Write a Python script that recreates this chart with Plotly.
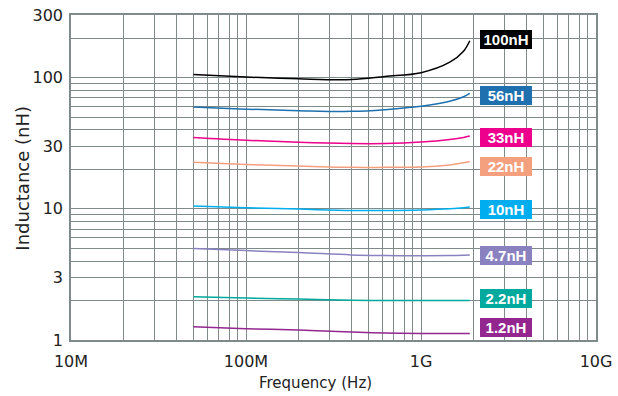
import numpy as np
import plotly.graph_objects as go

freq_hz = [50e6, 100e6, 200e6, 400e6, 623e6, 1.0e9, 1.46e9, 1.75e9, 1.9e9]

series_names = ["100nH", "56nH", "33nH", "22nH", "10nH", "4.7nH", "2.2nH", "1.2nH"]
series_colors = ["#000000", "#1f70ae", "#ec008c", "#f4a07f", "#00aeef", "#8a82c0", "#00a99d", "#93278f"]

l_100 = [105.4, 101.0, 97.8, 96.6, 102.0, 109.0, 131.0, 159.0, 191.0]
l_56 = [59.7, 57.5, 56.0, 55.3, 57.0, 60.4, 66.0, 71.5, 75.9]
l_33 = [35.0, 33.3, 32.1, 31.4, 31.4, 32.3, 33.8, 35.0, 35.9]
l_22 = [22.6, 21.8, 21.2, 20.7, 20.7, 20.8, 21.6, 22.4, 22.9]
l_10 = [10.5, 10.2, 9.95, 9.7, 9.7, 9.8, 10.0, 10.2, 10.3]
l_4_7 = [4.98, 4.8, 4.64, 4.45, 4.4, 4.38, 4.4, 4.43, 4.45]
l_2_2 = [2.14, 2.09, 2.05, 2.01, 2.0, 2.0, 2.0, 2.0, 2.0]
l_1_2 = [1.26, 1.22, 1.19, 1.15, 1.13, 1.12, 1.12, 1.12, 1.12]
series_values = [l_100, l_56, l_33, l_22, l_10, l_4_7, l_2_2, l_1_2]

label_freq = 3.06e9
label_y = [195, 73, 34.8, 20.9, 9.8, 4.38, 2.09, 1.24]

x_tick_labels = {1e7: "10M", 1e8: "100M", 1e9: "1G", 1e10: "10G"}
y_tick_labels = {1: "1", 3: "3", 10: "10", 30: "30", 100: "100", 300: "300"}

x_grid = [m * 10 ** e for e in (7, 8, 9) for m in range(1, 10)] + [1e10]
y_grid = [m * 10 ** e for e in (0, 1) for m in range(1, 10)] + [100, 200, 300]

fig = go.Figure()
for name, color, vals in zip(series_names, series_colors, series_values):
    fig.add_trace(go.Scatter(x=freq_hz, y=vals, mode="lines", name=name,
                             line=dict(color=color, width=1.5, shape="spline", smoothing=1.0),
                             showlegend=False, hoverinfo="skip"))

for name, color, yv in zip(series_names, series_colors, label_y):
    fig.add_annotation(x=np.log10(label_freq), y=np.log10(yv), xref="x", yref="y",
                       text="<b>%s</b>" % name, showarrow=False,
                       font=dict(family="Liberation Sans", size=15, color="white"),
                       bgcolor=color, width=48, height=15, borderpad=2, borderwidth=0)

text_font = dict(family="DejaVu Sans", color="#222")
fig.add_annotation(text="Frequency (Hz)", xref="paper", yref="paper", x=0.465, y=-0.132,
                   xanchor="center", yanchor="middle",
                   showarrow=False, font=dict(text_font, size=15))
fig.add_annotation(text="Inductance (nH)", xref="paper", yref="paper", x=-0.093, y=0.497,
                   xanchor="center", yanchor="middle",
                   showarrow=False, textangle=-90, font=dict(text_font, size=18))

grid_color = "#7f8b8b"
fig.update_xaxes(type="log", range=[7, 10], automargin=False,
                 tickvals=x_grid,
                 ticktext=[x_tick_labels.get(v, "") for v in x_grid],
                 showgrid=True, gridcolor=grid_color, gridwidth=1.4,
                 showline=True, linecolor=grid_color, linewidth=1.6, mirror=True,
                 ticks="", zeroline=False, ticklabelstandoff=6,
                 tickfont=dict(text_font, size=16))
fig.update_yaxes(type="log", range=[0, np.log10(300)], automargin=False,
                 tickvals=y_grid,
                 ticktext=[y_tick_labels.get(v, "") for v in y_grid],
                 showgrid=True, gridcolor=grid_color, gridwidth=1.4,
                 showline=True, linecolor=grid_color, linewidth=1.6, mirror=True,
                 ticks="", zeroline=False, ticklabelstandoff=3,
                 tickfont=dict(text_font, size=16))

fig.update_layout(width=618, height=396, margin=dict(l=71, r=22, t=15, b=56, autoexpand=False),
                  plot_bgcolor="white", paper_bgcolor="white")

fig.write_html("out.html")
